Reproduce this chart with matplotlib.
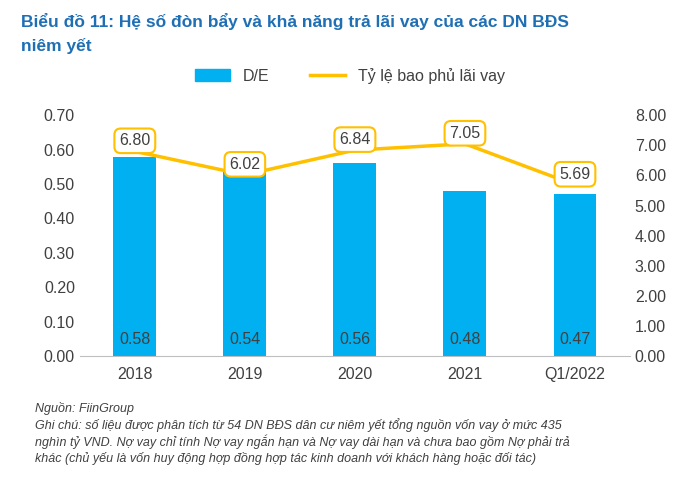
import matplotlib.pyplot as plt
import numpy as np

categories = ["2018", "2019", "2020", "2021", "Q1/2022"]
de_ratio = [0.58, 0.54, 0.56, 0.48, 0.47]
coverage = [6.80, 6.02, 6.84, 7.05, 5.69]

BLUE = "#00B0F0"
GOLD = "#FFC000"

plt.rcParams["font.family"] = ["Liberation Sans", "DejaVu Sans"]

fig = plt.figure(figsize=(7.0, 4.82), dpi=100)
ax = fig.add_axes([0.114, 0.261, 0.786, 0.50])
x = np.arange(len(categories))

ax.bar(x, de_ratio, width=0.39, color=BLUE, zorder=2)
for xi, v in zip(x, de_ratio):
    ax.text(xi, 0.048, f"{v:.2f}", ha="center", va="center", fontsize=11.5, color="#404040")

ax.set_ylim(0, 0.70)
ax.set_yticks(np.arange(0, 0.71, 0.1))
ax.set_yticklabels([f"{t:.2f}" for t in np.arange(0, 0.71, 0.1)])
ax.set_xlim(-0.5, len(categories) - 0.5)
ax.set_xticks(x)
ax.set_xticklabels(categories)
for s in ["top", "right", "left"]:
    ax.spines[s].set_visible(False)
ax.spines["bottom"].set_color("#BFBFBF")
ax.tick_params(length=0, labelsize=11.5, colors="#404040")
ax.tick_params(axis="x", pad=8)

ax2 = ax.twinx()
ax2.plot(x, coverage, color=GOLD, linewidth=2.5, zorder=3)
for xi, v in zip(x, coverage):
    ax2.text(xi, v + 0.35, f"{v:.2f}", ha="center", va="center", fontsize=11.5, color="#404040",
             bbox=dict(boxstyle="round,pad=0.3,rounding_size=0.4", fc="white", ec=GOLD, lw=1.5), zorder=4)
ax2.set_ylim(0, 8)
ax2.set_yticks(np.arange(0, 8.1, 1))
ax2.set_yticklabels([f"{t:.2f}" for t in np.arange(0, 8.1, 1)])
for s in ["top", "right", "left", "bottom"]:
    ax2.spines[s].set_visible(False)
ax2.tick_params(length=0, labelsize=11.5, colors="#404040")

fig.text(0.03, 0.955, "Biểu đồ 11: Hệ số đòn bẩy và khả năng trả lãi vay của các DN BĐS",
         fontsize=12.5, fontweight="bold", color="#1F6FB5", va="center")
fig.text(0.03, 0.905, "niêm yết", fontsize=12.5, fontweight="bold", color="#1F6FB5", va="center")

handles = [plt.Rectangle((0, 0), 1, 1, color=BLUE), plt.Line2D([0], [0], color=GOLD, lw=2.5)]
fig.legend(handles, ["D/E", "Tỷ lệ bao phủ lãi vay"], loc="center", bbox_to_anchor=(0.5, 0.843),
           ncol=2, frameon=False, fontsize=11.5, handlelength=2.2, columnspacing=2.5,
           labelcolor="#404040")

notes = ("Nguồn: FiinGroup\n"
         "Ghi chú: số liệu được phân tích từ 54 DN BĐS dân cư niêm yết tổng nguồn vốn vay ở mức 435\n"
         "nghìn tỷ VND. Nợ vay chỉ tính Nợ vay ngắn hạn và Nợ vay dài hạn và chưa bao gồm Nợ phải trả\n"
         "khác (chủ yếu là vốn huy động hợp đồng hợp tác kinh doanh với khách hàng hoặc đối tác)")
fig.text(0.05, 0.165, notes, fontsize=9, style="italic", color="#404040", va="top", linespacing=1.25)

fig.savefig("out.png", dpi=100)
